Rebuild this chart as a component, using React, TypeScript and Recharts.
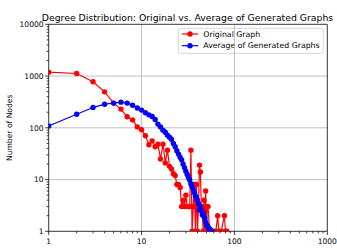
import React from "react";
import { LineChart, Line, XAxis, YAxis, ReferenceLine, Customized } from "recharts";

// degree -> node count, original graph
const redDegrees = [
  1, 2, 3, 4, 5, 6, 7, 8, 9, 10, 11, 12, 13, 14, 15, 16, 17, 18, 19, 20, 21, 22, 23, 24, 25, 26, 27, 28, 29, 30,
  31, 32, 33, 34, 35, 36, 37, 38, 39, 40, 41, 42, 43, 44, 45, 46, 47, 48, 49, 50, 51, 52, 54, 56, 57, 60, 63, 66,
  68, 72, 78, 80, 83,
];
const redCounts = [
  1190, 1120, 775, 495, 300, 230, 163, 142, 104, 92, 70, 47, 56, 43, 48, 25, 48, 21, 37, 18, 16, 13, 12, 8, 8, 7,
  3, 4, 3, 5, 3, 3, 3, 37, 1, 3, 8, 1, 8, 1, 3, 19, 14, 3, 3, 1, 4, 1, 6, 1, 3, 3, 1, 1, 1, 1, 1, 2, 1, 1, 2, 1, 1,
];

// degree -> mean node count over generated graphs
const blueDegrees = [
  1, 2, 3, 4, 5, 6, 7, 8, 9, 10, 11, 12, 13, 14, 15, 16, 17, 18, 19, 20, 21, 22, 23, 24, 25, 26, 27, 28, 29, 30,
  31, 32, 33, 34, 35, 36, 37, 38, 39, 40, 41, 42, 43, 44, 45, 46, 47, 48, 49, 50, 51, 52, 53, 54, 55, 56, 57,
];
const blueCounts = [
  108, 183, 246, 286, 300, 313, 300, 272, 242, 220, 196, 178, 165, 145, 118, 104, 90, 82, 72, 66, 60, 50, 43, 36,
  31, 27, 24, 20, 17, 14.5, 12.5, 11, 9.8, 8.3, 7.3, 6.6, 5.6, 4.8, 4.5, 4, 3.4, 2.6, 3, 2.5, 2.1, 2.3, 1.9, 1.8,
  1.5, 1.3, 1.3, 1.2, 1.15, 1.1, 1.05, 1.02, 1,
];

const seriesNames = ["Original Graph", "Average of Generated Graphs"];
const seriesColors = ["#ff0000", "#0000ff"];
const xMajorTicks = [1, 10, 100, 1000];
const yMajorTicks = [1, 10, 100, 1000, 10000];
const minorSteps = [2, 3, 4, 5, 6, 7, 8, 9];
const title = "Degree Distribution: Original vs. Average of Generated Graphs";
const xLabel = "Degree";
const yLabel = "Number of Nodes";

const withMinor = (majors: number[]) =>
  [...majors, ...majors.slice(0, -1).flatMap((m) => minorSteps.map((k) => k * m))].sort((a, b) => a - b);

const redData = redDegrees.map((d, i) => ({ degree: d, count: redCounts[i] }));
const blueData = blueDegrees.map((d, i) => ({ degree: d, count: blueCounts[i] }));

const FONT = "DejaVu Sans, sans-serif";
const W = 337;
const H = 249;
const PLOT = { left: 48.7, top: 24.3, right: 327.3, bottom: 231.3 };

const XTick = (props: any) => {
  const { x, y, payload } = props;
  const major = xMajorTicks.includes(payload.value);
  return (
    <g>
      <line x1={x} x2={x} y1={y} y2={y + (major ? 3.5 : 2)} stroke="#000" strokeWidth={0.8} />
      {major && (
        <text x={x} y={y + 12.4} textAnchor="middle" fontSize={7.6} fill="#000" fontFamily={FONT}>
          {payload.value}
        </text>
      )}
    </g>
  );
};

const YTick = (props: any) => {
  const { x, y, payload } = props;
  const major = yMajorTicks.includes(payload.value);
  return (
    <g>
      <line x1={x} x2={x - (major ? 3.5 : 2)} y1={y} y2={y} stroke="#000" strokeWidth={0.8} />
      {major && (
        <text x={x - 5} y={y + 2.7} textAnchor="end" fontSize={7.6} fill="#000" fontFamily={FONT}>
          {payload.value}
        </text>
      )}
    </g>
  );
};

const Decorations = () => {
  const lx = 178.3;
  const ly = 28.3;
  return (
    <g fontFamily={FONT} fill="#000">
      <text x={(PLOT.left + PLOT.right) / 2 - 0.5} y={20.5} textAnchor="middle" fontSize={9.3}>
        {title}
      </text>
      <text x={(PLOT.left + PLOT.right) / 2} y={255.5} textAnchor="middle" fontSize={7.6}>
        {xLabel}
      </text>
      <text
        x={0}
        y={0}
        transform={`translate(11.5 ${(PLOT.top + PLOT.bottom) / 2}) rotate(-90)`}
        textAnchor="middle"
        fontSize={7.6}
      >
        {yLabel}
      </text>
      <rect x={lx} y={ly} width={145} height={25} rx={2} fill="#fff" fillOpacity={0.8} stroke="#cccccc" strokeWidth={0.8} />
      {seriesNames.map((name, i) => {
        const cy = 34 + i * 11.7;
        return (
          <g key={name}>
            <line x1={181.7} x2={198.3} y1={cy} y2={cy} stroke={seriesColors[i]} strokeWidth={1.2} />
            <circle cx={190} cy={cy} r={2.7} fill={seriesColors[i]} />
            <text x={203.3} y={cy + 2.7} fontSize={7.8}>
              {name}
            </text>
          </g>
        );
      })}
    </g>
  );
};

export default function App() {
  return (
    <div style={{ width: W, height: H, background: "#fff" }}>
      <style>{"body{margin:0}"}</style>
      <LineChart
        width={W}
        height={H}
        margin={{ top: PLOT.top, right: W - PLOT.right, bottom: 0, left: 0 }}
      >
        <XAxis
          type="number"
          dataKey="degree"
          scale="log"
          domain={[1, 1000]}
          ticks={withMinor(xMajorTicks)}
          interval={0}
          allowDataOverflow
          height={H - PLOT.bottom}
          tickSize={0}
          tickMargin={0}
          tickLine={false}
          tick={<XTick />}
          axisLine={{ stroke: "#000", strokeWidth: 0.8 }}
        />
        <YAxis
          type="number"
          dataKey="count"
          scale="log"
          domain={[1, 10000]}
          ticks={withMinor(yMajorTicks)}
          interval={0}
          allowDataOverflow
          width={PLOT.left}
          tickSize={0}
          tickMargin={0}
          tickLine={false}
          tick={<YTick />}
          axisLine={{ stroke: "#000", strokeWidth: 0.8 }}
        />
        {[10, 100].map((v) => (
          <ReferenceLine key={`vx${v}`} x={v} stroke="#b0b0b0" strokeWidth={0.8} />
        ))}
        {[10, 100, 1000].map((v) => (
          <ReferenceLine key={`hy${v}`} y={v} stroke="#b0b0b0" strokeWidth={0.8} />
        ))}
        <Line
          data={redData}
          dataKey="count"
          name={seriesNames[0]}
          stroke={seriesColors[0]}
          strokeWidth={1.2}
          dot={{ r: 2.7, fill: seriesColors[0], stroke: seriesColors[0], strokeWidth: 0 }}
          isAnimationActive={false}
        />
        <Line
          data={blueData}
          dataKey="count"
          name={seriesNames[1]}
          stroke={seriesColors[1]}
          strokeWidth={1.2}
          dot={{ r: 2.7, fill: seriesColors[1], stroke: seriesColors[1], strokeWidth: 0 }}
          isAnimationActive={false}
        />
        <ReferenceLine y={10000} stroke="#000" strokeWidth={0.8} />
        <ReferenceLine x={1000} stroke="#000" strokeWidth={0.8} />
        <Customized component={Decorations} />
      </LineChart>
    </div>
  );
}
